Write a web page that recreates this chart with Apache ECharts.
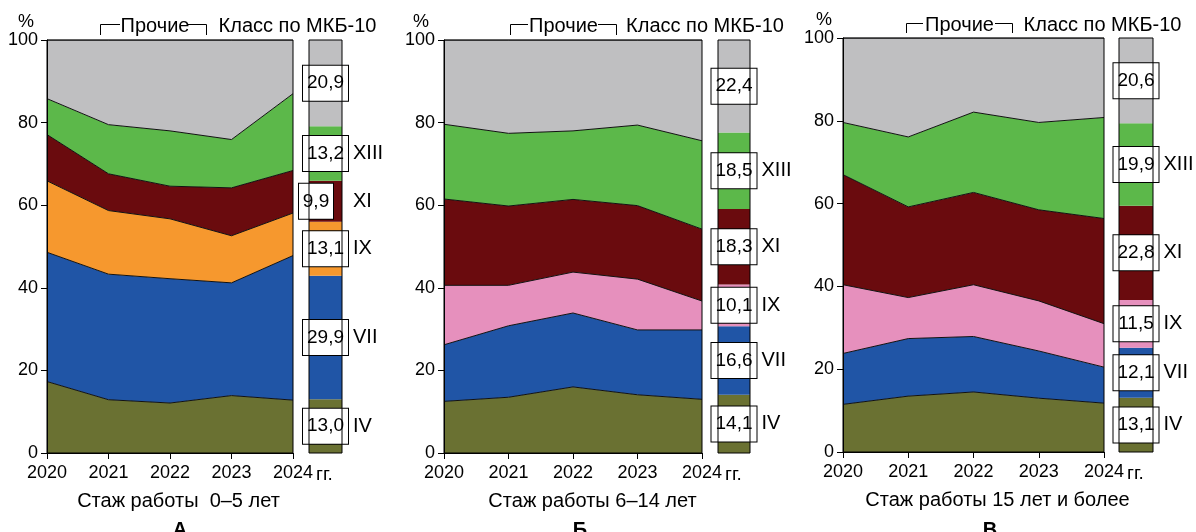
<!DOCTYPE html>
<html>
<head>
<meta charset="utf-8">
<script src="https://cdn.jsdelivr.net/npm/echarts@6/dist/echarts.min.js"></script>
<style>
  html, body { margin: 0; padding: 0; background: #fff; }
  #chart { width: 1196px; height: 532px; }
</style>
</head>
<body>
<div id="chart"></div>
<script>
// Years on the horizontal axis
const years = ['2020', '2021', '2022', '2023', '2024'];
// ICD-10 classes, stacked bottom to top
const classNames = ['IV', 'VII', 'IX', 'XI', 'XIII', 'Прочие'];
const yTicks = [0, 20, 40, 60, 80, 100];

// А — стаж работы 0–5 лет (shares, %)
const a_IV    = [17.3, 12.9, 12.1, 13.9, 12.8];
const a_VII   = [31.3, 30.4, 30.1, 27.3, 35.0];
const a_IX    = [17.3, 15.4, 14.5, 11.4, 10.3];
const a_XI    = [11.2,  8.9,  7.9, 11.6, 10.3];
const a_XIII  = [ 8.7, 11.9, 13.4, 11.7, 18.6];
const a_other = [14.2, 20.5, 22.0, 24.1, 13.0];
const a_mean  = [13.0, 29.9, 13.1, 9.9, 13.2, 20.9];

// Б — стаж работы 6–14 лет
const b_IV    = [12.5, 13.5, 16.0, 14.1, 13.0];
const b_VII   = [13.7, 17.3, 17.9, 15.7, 16.8];
const b_IX    = [14.4,  9.8,  9.9, 12.3,  7.0];
const b_XI    = [20.9, 19.2, 17.6, 17.8, 17.4];
const b_XIII  = [18.1, 17.6, 16.6, 19.5, 21.4];
const b_other = [20.4, 22.6, 22.0, 20.6, 24.4];
const b_mean  = [14.1, 16.6, 10.1, 18.3, 18.5, 22.4];

// В — стаж работы 15 лет и более
const c_IV    = [11.5, 13.5, 14.5, 13.0, 11.8];
const c_VII   = [12.3, 13.9, 13.4, 11.4,  8.7];
const c_IX    = [16.6,  9.9, 12.5, 12.1, 10.5];
const c_XI    = [26.6, 21.9, 22.3, 22.0, 25.4];
const c_XIII  = [12.6, 16.9, 19.4, 21.1, 24.4];
const c_other = [20.4, 23.9, 17.9, 20.4, 19.2];
const c_mean  = [13.1, 12.1, 11.5, 22.8, 19.9, 20.6];

const subtitles = ['Стаж работы  0–5 лет', 'Стаж работы 6–14 лет', 'Стаж работы 15 лет и более'];
const letters = ['А', 'Б', 'В'];

const FONT = "'Liberation Sans', Arial, Helvetica, sans-serif";
const C_OLIVE = '#6a7132', C_BLUE = '#2055a6', C_ORANGE = '#f6982e', C_PINK = '#e690bd',
      C_DRED = '#6a0b0e', C_GREEN = '#5cb84a', C_GRAY = '#bfbfc1';

const panels = [
  { series: [a_IV, a_VII, a_IX, a_XI, a_XIII, a_other], mean: a_mean,
    colors: [C_OLIVE, C_BLUE, C_ORANGE, C_DRED, C_GREEN, C_GRAY],
    area: { left: 47, top: 40, width: 246, height: 413 },
    bar:  { left: 309, top: 40, width: 33, height: 413 },
    narrow: [3],   // the short "9,9" box sits a little to the left
    pct: [26, 22], head: { y: 26.5, lineY: 24.5, legY: 35, l: [100.5, 120], r: [188, 206.5], p: 155, k: 297.5 },
    sub: [178.5, 501.5], letter: [180, 530] },
  { series: [b_IV, b_VII, b_IX, b_XI, b_XIII, b_other], mean: b_mean,
    colors: [C_OLIVE, C_BLUE, C_PINK, C_DRED, C_GREEN, C_GRAY],
    area: { left: 444, top: 40, width: 258, height: 413 },
    bar:  { left: 718, top: 40, width: 32, height: 413 },
    narrow: [],
    pct: [421, 22], head: { y: 26.5, lineY: 24.5, legY: 35, l: [510.5, 528], r: [598, 616.5], p: 563.5, k: 705 },
    sub: [592.5, 501.5], letter: [580, 530] },
  { series: [c_IV, c_VII, c_IX, c_XI, c_XIII, c_other], mean: c_mean,
    colors: [C_OLIVE, C_BLUE, C_PINK, C_DRED, C_GREEN, C_GRAY],
    area: { left: 843, top: 38, width: 261, height: 414 },
    bar:  { left: 1119, top: 38, width: 34, height: 414 },
    narrow: [],
    pct: [824, 20], head: { y: 25, lineY: 23.5, legY: 33, l: [906.5, 923], r: [995, 1012.5], p: 959.5, k: 1102.5 },
    sub: [997.5, 500.5], letter: [990, 530] }
];

const fmt = v => v.toFixed(1).replace('.', ',');

const boxStyle = w => ({
  fontSize: 19, fontFamily: FONT, color: '#000', width: w, height: 21, align: 'center',
  padding: [7, 4, 7, 4], lineHeight: 21, backgroundColor: '#fff', borderColor: '#000', borderWidth: 1
});

const grid = [], xAxis = [], yAxis = [], series = [], graphic = [];

panels.forEach((p, i) => {
  const gA = 2 * i, gB = 2 * i + 1;
  grid.push(Object.assign({ show: true, z: 10, backgroundColor: 'transparent', borderColor: '#000', borderWidth: 1, outerBoundsMode: 'none' }, p.area));
  grid.push(Object.assign({ show: true, z: 10, backgroundColor: 'transparent', borderColor: '#000', borderWidth: 1, outerBoundsMode: 'none' }, p.bar));

  xAxis.push({
    gridIndex: gA, type: 'category', data: years, boundaryGap: false, z: 10,
    axisLine: { lineStyle: { color: '#000', width: 1 } },
    axisTick: { show: true, inside: false, length: 6, lineStyle: { color: '#000' } },
    axisLabel: { color: '#000', fontSize: 18, fontFamily: FONT, margin: 11 },
    splitLine: { show: false }
  });
  xAxis.push({ gridIndex: gB, type: 'category', data: ['m'], show: false });

  yAxis.push({
    gridIndex: gA, type: 'value', min: yTicks[0], max: yTicks[yTicks.length - 1], interval: 20, z: 10,
    axisLine: { show: true, lineStyle: { color: '#000', width: 1 } },
    axisTick: { show: true, inside: false, length: 6, lineStyle: { color: '#000' } },
    axisLabel: { color: '#000', fontSize: 18, fontFamily: FONT, margin: 9 },
    splitLine: { show: false }
  });
  yAxis.push({ gridIndex: gB, type: 'value', min: 0, max: 100, show: false });

  p.series.forEach((vals, k) => {
    series.push({
      type: 'line', name: classNames[k], xAxisIndex: gA, yAxisIndex: gA,
      stack: 'area' + i, data: vals, symbol: 'none', smooth: false,
      lineStyle: { color: '#111', width: 1 },
      areaStyle: { color: p.colors[k], opacity: 1 },
      itemStyle: { color: p.colors[k] },
      emphasis: { disabled: true }, silent: true, z: 2
    });
  });

  p.mean.forEach((v, k) => {
    const roman = k < 5 ? classNames[k] : '';
    const narrow = p.narrow.indexOf(k) >= 0;
    series.push({
      type: 'bar', name: classNames[k], xAxisIndex: gB, yAxisIndex: gB,
      stack: 'mean' + i, data: [v], barWidth: '100%',
      itemStyle: { color: p.colors[k] },
      emphasis: { disabled: true }, silent: true, z: 2,
      label: {
        show: true, position: ['50%', '50%'], align: 'left', verticalAlign: 'middle',
        offset: [narrow ? -26.5 : -22.5, 0],
        formatter: q => {
          const box = narrow ? `{vn|${fmt(q.value)}}` : `{v|${fmt(q.value)}}`;
          if (!roman) return box;
          return box + (narrow ? `{rw|${roman}}` : `{r|${roman}}`);
        },
        rich: {
          v: boxStyle(37),
          vn: boxStyle(26),
          r: { fontSize: 20, fontFamily: FONT, color: '#000', padding: [0, 0, 0, 5] },
          rw: { fontSize: 20, fontFamily: FONT, color: '#000', padding: [0, 0, 0, 20] }
        }
      }
    });
  });

  const txt = (x, y, text, extra) => ({
    type: 'text', x, y, silent: true, z: 20,
    style: Object.assign({ text, fill: '#000', font: `20px ${FONT}`, align: 'center', verticalAlign: 'middle' }, extra || {})
  });
  const h = p.head;
  graphic.push(txt(p.pct[0], p.pct[1], '%', { font: `18px ${FONT}` }));
  graphic.push(txt(h.p, h.y, 'Прочие'));
  graphic.push(txt(h.k, h.y, 'Класс по МКБ-10'));
  graphic.push({ type: 'polyline', silent: true, z: 20,
    shape: { points: [[h.l[0], h.legY], [h.l[0], h.lineY], [h.l[1], h.lineY]] },
    style: { stroke: '#000', lineWidth: 1, fill: null } });
  graphic.push({ type: 'polyline', silent: true, z: 20,
    shape: { points: [[h.r[0], h.lineY], [h.r[1], h.lineY], [h.r[1], h.legY]] },
    style: { stroke: '#000', lineWidth: 1, fill: null } });
  graphic.push(txt(p.sub[0], p.sub[1], subtitles[i]));
  graphic.push(txt(p.letter[0], p.letter[1], letters[i], { font: `bold 20px ${FONT}` }));
});

const chart = echarts.init(document.getElementById('chart'), null, { renderer: 'canvas' });
chart.setOption({
  animation: false,
  backgroundColor: '#fff',
  textStyle: { fontFamily: FONT },
  grid, xAxis, yAxis, series, graphic
});

// "гг." follows the last year label of each panel
const extra = [];
panels.forEach((p, i) => {
  const x = chart.convertToPixel({ xAxisIndex: 2 * i }, years.length - 1);
  const y = p.area.top + p.area.height + 22;
  extra.push({
    type: 'text', x: x + 23, y, silent: true, z: 20,
    style: { text: 'гг.', fill: '#000', font: `19px ${FONT}`, align: 'left', verticalAlign: 'middle' }
  });
});
chart.setOption({ graphic: graphic.concat(extra) });
</script>
</body>
</html>
